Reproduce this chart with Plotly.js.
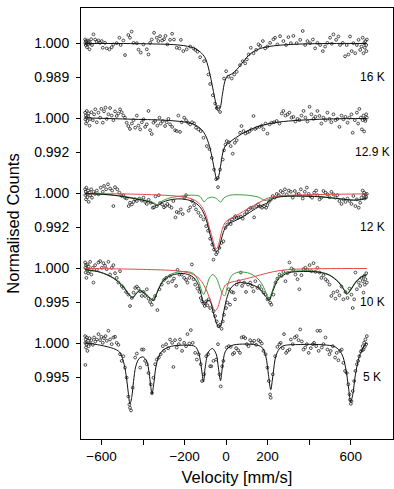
<!DOCTYPE html>
<html>
<head>
<meta charset="utf-8">
<script src="https://cdn.plot.ly/plotly-3.0.1.min.js"></script>
<style>html,body{margin:0;padding:0;background:#fff;}#chart{width:394px;height:489px;}</style>
</head>
<body>
<div id="chart"></div>
<script>
// ---------- measured data (velocity in mm/s, normalised counts) ----------
const temps = ["16 K", "12.9 K", "12 K", "10 K", "5 K"];
const tickLow = [0.989, 0.992, 0.992, 0.995, 0.995];
const tickLowText = ["0.989", "0.992", "0.992", "0.995", "0.995"];

// 16 K
const vel16 = [-679,-678,-676,-675,-671,-670,-666,-665,-662,-658,-655,-650,-646,-639,-631,-623,-615,-607,-599,-594,-583,-575,-562,-551,-543,-527,-514,-508,-495,-487,-471,-463,-455,-446,-430,-422,-411,-398,-382,-374,-366,-358,-347,-334,-326,-318,-308,-299,-292,-283,-270,-260,-251,-238,-225,-218,-206,-190,-173,-157,-148,-138,-125,-106,-85,-77,-64,-53,-45,-37,-29,-10,0,11,27,39,51,67,80,92,100,109,119,132,145,156,164,177,188,199,212,228,236,247,260,276,289,300,312,324,340,357,369,381,392,405,418,429,440,453,466,477,488,501,509,517,530,541,549,562,573,581,589,597,605,613,622,630,638,646,652,658,662,665,668,671,675,676,678];
const cnt16 = [1.0013,1.0002,0.9995,1.0008,0.9999,0.9988,1.0010,0.9997,1.0006,0.9981,1.0001,1.0014,0.9995,1.0030,1.0013,1.0006,1.0010,1.0002,1.0008,0.9986,1.0002,0.9984,0.9981,0.9988,0.9997,1.0001,1.0019,0.9995,1.0010,0.9962,1.0028,1.0019,1.0039,1.0002,1.0001,0.9980,0.9970,0.9997,0.9981,0.9964,1.0002,1.0013,1.0035,1.0019,1.0008,1.0024,1.0010,1.0014,1.0025,0.9997,1.0012,1.0032,1.0013,0.9986,0.9984,1.0012,0.9975,0.9981,0.9990,0.9984,0.9979,0.9973,0.9955,0.9942,0.9898,0.9867,0.9830,0.9803,0.9788,0.9792,0.9775,0.9885,0.9909,0.9891,0.9885,0.9898,0.9907,0.9929,0.9942,0.9935,0.9948,0.9964,0.9986,0.9968,0.9979,0.9997,0.9992,1.0008,0.9984,0.9990,1.0002,1.0014,1.0019,0.9997,1.0024,1.0008,0.9995,1.0021,1.0001,1.0025,1.0001,1.0012,1.0041,0.9995,1.0008,1.0001,1.0013,0.9984,1.0002,0.9995,0.9975,0.9990,1.0002,1.0019,0.9999,1.0030,1.0012,1.0023,0.9995,1.0002,0.9958,0.9995,0.9964,1.0023,0.9975,1.0001,0.9968,0.9995,1.0012,0.9979,0.9990,1.0019,0.9968,1.0001,0.9986,1.0008,0.9995,0.9975,1.0013];
const fitVel16 = [-679,-382,-222,-157,-125,-101,-85,-69,-53,-40,-29,-18,-6,6,27,51,84,116,164,228,341,501,678];
const fit16 = [1.0,0.9999,0.99945,0.99857,0.99725,0.99527,0.99197,0.98702,0.98152,0.97789,0.97877,0.98317,0.98757,0.98922,0.98999,0.99142,0.99417,0.99659,0.99835,0.99923,0.99978,1.0,1.0];

// 12.9 K
const vel129 = [-679,-678,-676,-675,-673,-671,-668,-665,-662,-658,-655,-649,-642,-636,-630,-623,-615,-607,-601,-594,-588,-581,-575,-567,-559,-551,-543,-535,-527,-519,-511,-503,-495,-487,-479,-471,-463,-454,-446,-438,-430,-422,-414,-406,-398,-390,-382,-374,-366,-358,-350,-342,-331,-321,-315,-305,-294,-286,-278,-270,-260,-246,-238,-230,-222,-214,-202,-193,-183,-173,-164,-154,-145,-133,-122,-109,-93,-80,-69,-58,-48,-40,-29,-16,-10,-3,3,13,22,32,42,51,67,74,84,93,103,112,122,132,140,148,161,172,180,190,199,209,220,231,244,257,268,276,286,296,305,315,324,334,344,353,363,373,382,392,402,411,421,430,440,450,459,469,479,488,498,507,517,527,536,546,556,565,575,585,594,604,610,620,630,636,642,649,654,658,662,665,668,671,675,678,-39];
const cnt129 = [1.0014,0.9998,1.0007,0.9988,1.0002,1.0018,0.9994,1.0006,1.0012,0.9983,0.9999,1.0015,0.9996,1.0010,1.0022,0.9991,1.0014,1.0002,1.0023,0.9990,1.0017,1.0026,0.9999,1.0010,1.0025,1.0007,0.9996,1.0017,1.0006,1.0012,1.0022,1.0015,1.0007,1.0002,0.9990,0.9982,0.9975,0.9988,0.9996,0.9978,1.0007,0.9983,0.9974,0.9991,0.9998,0.9980,0.9986,1.0018,0.9972,0.9963,0.9990,0.9994,0.9983,1.0002,0.9988,0.9994,0.9982,0.9991,0.9999,0.9986,0.9980,0.9972,0.9970,1.0007,0.9968,0.9991,1.0002,0.9996,0.9990,0.9986,0.9991,0.9988,0.9978,0.9974,0.9970,0.9954,0.9934,0.9927,0.9906,0.9878,0.9855,0.9858,0.9878,0.9902,0.9924,0.9938,0.9946,0.9943,0.9934,0.9916,0.9942,0.9948,0.9966,0.9982,0.9970,0.9964,0.9967,0.9969,0.9974,1.0006,0.9975,0.9978,0.9980,0.9983,0.9974,0.9988,0.9964,0.9986,0.9990,0.9991,0.9994,0.9988,1.0012,1.0018,1.0007,1.0010,1.0014,1.0002,1.0004,0.9993,0.9999,0.9996,1.0007,1.0018,1.0002,0.9993,1.0028,1.0010,0.9999,1.0004,1.0018,1.0006,0.9988,1.0002,0.9996,1.0014,0.9999,0.9991,1.0010,0.9996,0.9999,0.9980,1.0007,0.9998,1.0004,0.9990,1.0002,1.0010,0.9966,0.9996,1.0014,0.9988,1.0023,1.0002,0.9974,0.9996,1.0007,0.9969,0.9999,0.9994,1.0010,1.0002,0.9836];
const fitVel129 = [-679,-463,-302,-206,-157,-125,-101,-80,-64,-53,-45,-37,-27,-16,-3,16,43,84,132,196,276,389,517,678];
const fit129 = [1.00016,0.99984,0.9996,0.9992,0.99864,0.99768,0.99616,0.99336,0.98976,0.98696,0.98536,0.986,0.98856,0.99176,0.99352,0.99432,0.99528,0.99656,0.99768,0.99864,0.99928,0.99968,0.99992,1.0];

// 12 K
const vel12 = [-679,-678,-676,-675,-673,-671,-668,-665,-662,-658,-655,-650,-646,-639,-631,-623,-615,-604,-594,-588,-578,-569,-559,-549,-543,-535,-524,-514,-503,-495,-487,-479,-469,-463,-454,-446,-438,-430,-418,-406,-398,-390,-382,-373,-363,-353,-347,-340,-334,-324,-318,-308,-299,-292,-283,-273,-263,-254,-244,-238,-228,-218,-209,-202,-193,-181,-173,-164,-154,-145,-133,-122,-109,-96,-87,-77,-67,-58,-48,-42,-32,-22,-13,-3,6,16,22,29,39,45,51,61,71,80,90,100,109,119,128,135,145,154,164,173,183,193,199,206,215,225,234,244,254,263,273,283,292,302,312,321,331,340,350,360,369,379,389,398,405,414,424,434,440,450,459,469,479,488,498,507,517,527,536,546,556,565,575,585,594,604,613,623,630,639,646,652,658,662,665,668,671,675,678,-61];
const cnt12 = [1.0010,0.9996,1.0004,0.9986,1.0014,0.9999,0.9991,1.0007,0.9980,1.0002,0.9996,1.0010,0.9990,1.0004,0.9999,1.0007,0.9998,1.0014,1.0004,1.0018,1.0010,1.0022,1.0012,1.0007,0.9970,1.0015,1.0010,1.0002,0.9994,0.9996,0.9990,0.9988,0.9970,0.9978,0.9974,0.9980,0.9986,0.9982,0.9988,0.9983,0.9990,0.9980,0.9975,0.9985,0.9978,0.9966,0.9967,0.9993,0.9970,0.9996,0.9977,0.9974,0.9967,0.9970,0.9975,0.9970,0.9966,0.9982,0.9943,0.9956,0.9954,0.9962,0.9951,0.9990,0.9996,0.9959,0.9967,0.9982,0.9972,0.9962,0.9954,0.9946,0.9938,0.9922,0.9911,0.9892,0.9878,0.9866,0.9855,0.9860,0.9870,0.9882,0.9886,0.9918,0.9926,0.9934,0.9927,0.9938,0.9942,0.9946,0.9942,0.9943,0.9945,0.9940,0.9950,0.9956,0.9962,0.9966,0.9966,0.9943,0.9970,0.9974,0.9969,0.9966,0.9969,0.9966,0.9972,0.9980,0.9985,0.9994,0.9990,0.9999,0.9996,1.0006,1.0002,1.0010,0.9998,1.0007,1.0004,0.9990,1.0006,0.9998,0.9999,1.0010,0.9988,1.0004,1.0014,0.9999,0.9994,0.9990,1.0002,1.0007,0.9996,0.9986,0.9990,1.0006,1.0002,0.9998,0.9991,1.0004,0.9998,0.9990,0.9996,0.9982,0.9975,0.9986,0.9980,0.9988,0.9982,0.9975,0.9994,0.9970,0.9986,0.9966,0.9978,0.9990,1.0007,0.9996,1.0002,0.9988,0.9998,0.9991,0.9999,0.9842];
const fitVel12 = [-679,-543,-446,-382,-350,-331,-310,-270,-222,-173,-141,-117,-96,-77,-61,-50,-40,-29,-16,-3,16,51,92,132,172,196,220,260,340,453,549,613,654,678];
const fit12 = [1.0,0.9996,0.9988,0.99816,0.9976,0.99712,0.99784,0.99848,0.99872,0.99832,0.99752,0.99616,0.99376,0.99016,0.98736,0.98616,0.98632,0.98792,0.99032,0.99192,0.99288,0.99368,0.9948,0.99608,0.9972,0.99768,0.99864,0.9992,0.99936,0.9992,0.99872,0.9984,0.99856,0.99896];
const sub1Vel12 = [-679,-382,-222,-157,-125,-101,-80,-64,-55,-47,-39,-29,-18,-6,11,43,84,132,172,204,292,453,678];
const sub1Fit12 = [1.0,0.99976,0.99928,0.99856,0.99736,0.99536,0.99176,0.98896,0.98736,0.9868,0.98736,0.98936,0.9916,0.99296,0.99376,0.99456,0.99576,0.99712,0.99816,0.99896,0.99952,0.99976,0.99992];
const sub2Vel12 = [-679,-543,-446,-382,-350,-331,-310,-270,-222,-157,-125,-106,-90,-64,-42,-26,-10,19,100,156,188,204,244,340,453,549,613,654,678];
const sub2Fit12 = [1.0,0.9996,0.99896,0.99832,0.99784,0.99736,0.99816,0.99896,0.99936,0.9996,0.99928,0.998,0.9988,0.99912,0.99864,0.99792,0.99896,0.9996,0.9996,0.99912,0.99832,0.99856,0.99928,0.99952,0.99928,0.99872,0.99848,0.99864,0.99896];

// 10 K
const vel10 = [-679,-678,-676,-675,-673,-671,-668,-665,-662,-658,-655,-649,-642,-639,-631,-623,-615,-607,-599,-591,-583,-575,-567,-559,-551,-543,-535,-527,-519,-511,-503,-495,-482,-471,-463,-454,-446,-438,-430,-422,-414,-406,-398,-390,-382,-374,-366,-358,-350,-342,-331,-321,-310,-299,-289,-279,-270,-260,-251,-241,-234,-225,-214,-202,-193,-186,-177,-165,-157,-149,-138,-128,-122,-116,-109,-103,-96,-90,-84,-77,-61,-53,-45,-37,-29,-22,-16,-10,0,6,13,19,27,35,43,51,61,71,77,87,96,106,116,125,132,141,151,161,170,180,190,199,206,212,218,228,238,247,257,267,276,286,296,305,315,324,334,344,353,363,373,382,392,402,411,421,430,440,450,459,469,479,488,498,507,517,527,536,546,556,565,575,585,594,604,610,617,623,630,639,646,652,658,662,665,668,671,675,678];
const cnt10 = [1.0009,1.0001,0.9994,1.0005,0.9986,0.9999,1.0006,0.9993,1.0003,0.9996,1.0010,0.9991,1.0001,0.9979,1.0005,0.9998,1.0009,1.0011,1.0001,1.0008,1.0004,0.9999,1.0010,0.9991,1.0001,1.0005,0.9993,0.9986,0.9979,0.9996,0.9974,0.9971,0.9965,0.9961,0.9944,0.9956,0.9964,0.9971,0.9973,0.9970,0.9966,0.9959,0.9965,0.9959,0.9969,0.9955,0.9950,0.9946,0.9954,0.9959,0.9938,0.9969,0.9976,0.9983,0.9986,0.9979,0.9989,0.9981,0.9985,0.9974,0.9998,0.9991,0.9991,0.9986,0.9983,0.9979,0.9986,1.0006,0.9984,0.9976,0.9970,0.9965,0.9956,0.9951,0.9948,0.9944,0.9951,0.9945,0.9954,0.9941,0.9936,0.9929,0.9921,0.9914,0.9916,0.9910,0.9921,0.9931,0.9941,0.9949,0.9969,0.9946,0.9965,0.9964,0.9954,0.9976,0.9981,0.9994,0.9974,0.9979,0.9965,0.9976,0.9979,0.9973,0.9966,0.9981,0.9971,0.9974,0.9969,0.9964,0.9961,0.9954,0.9955,0.9949,0.9946,0.9961,0.9979,0.9985,0.9991,0.9989,0.9995,0.9981,0.9993,1.0009,1.0000,0.9998,0.9991,0.9984,0.9969,0.9990,0.9999,1.0001,0.9998,1.0005,0.9996,1.0008,0.9995,1.0001,0.9994,0.9986,0.9990,0.9984,0.9981,0.9976,0.9959,0.9964,0.9955,0.9966,0.9960,0.9973,0.9954,0.9965,0.9956,0.9970,0.9961,0.9941,0.9954,0.9994,0.9969,0.9979,0.9974,0.9986,0.9981,0.9964,0.9989,0.9976,0.9984,0.9993,0.9979];
const fitVel10 = [-679,-607,-543,-495,-471,-450,-430,-414,-390,-366,-350,-331,-302,-262,-206,-165,-138,-120,-109,-101,-90,-77,-61,-45,-34,-22,-10,6,27,59,108,156,185,207,225,252,300,373,445,498,541,569,581,597,626,654,678];
const fit10 = [0.99985,0.99945,0.99855,0.99725,0.9962,0.99565,0.99635,0.99665,0.99625,0.9955,0.99525,0.9965,0.9982,0.999,0.99925,0.99885,0.99785,0.9961,0.99485,0.9946,0.99525,0.9951,0.99335,0.99175,0.99115,0.99185,0.99375,0.99585,0.99725,0.99785,0.99775,0.9971,0.9961,0.99525,0.9966,0.99845,0.99935,0.99955,0.99945,0.999,0.99795,0.99675,0.99615,0.99665,0.998,0.99875,0.99905];
const sub1Vel10 = [-679,-382,-222,-157,-125,-96,-77,-64,-53,-42,-29,-16,-3,19,67,132,196,260,340,678];
const sub1Fit10 = [1.0,0.99985,0.9996,0.9991,0.99835,0.99685,0.99535,0.99425,0.9937,0.99405,0.99535,0.99675,0.99755,0.9979,0.99825,0.99875,0.9993,0.9997,0.9999,1.0];
const sub2Vel10 = [-679,-607,-543,-495,-471,-450,-430,-414,-390,-366,-350,-331,-302,-262,-206,-157,-133,-117,-108,-96,-80,-64,-45,-29,-16,-6,6,27,59,116,164,193,207,222,247,292,357,437,493,541,569,581,597,626,654,678];
const sub2Fit10 = [0.99975,0.99945,0.9986,0.99735,0.99625,0.9957,0.99645,0.99675,0.99635,0.9956,0.99535,0.9966,0.99835,0.9992,0.99955,0.99925,0.9981,0.9966,0.9961,0.9971,0.9986,0.9991,0.99845,0.9971,0.9961,0.99595,0.99735,0.99895,0.99945,0.99925,0.9981,0.99635,0.99545,0.9966,0.9986,0.99945,0.99965,0.99955,0.9991,0.99805,0.99685,0.99625,0.99675,0.9981,0.99885,0.99915];

// 5 K
const vel5 = [-679,-678,-678,-676,-675,-673,-671,-668,-665,-662,-658,-655,-649,-642,-636,-630,-623,-615,-607,-601,-594,-588,-581,-575,-567,-559,-551,-543,-535,-527,-519,-511,-503,-495,-487,-479,-471,-466,-463,-458,-450,-438,-430,-414,-406,-398,-390,-382,-374,-363,-357,-350,-342,-334,-324,-315,-305,-299,-289,-279,-270,-260,-254,-246,-238,-228,-222,-212,-202,-193,-186,-177,-170,-161,-149,-141,-132,-122,-116,-106,-96,-87,-77,-71,-61,-48,-39,-32,-26,-19,-13,3,13,22,32,39,48,58,67,75,84,92,100,108,116,125,135,145,156,164,172,180,190,199,206,212,215,225,236,247,257,263,273,279,289,296,305,312,321,331,340,349,357,365,373,381,389,398,408,418,424,434,440,446,453,461,469,479,488,498,504,514,525,533,541,549,557,565,573,581,589,594,597,601,604,610,617,623,630,636,642,649,655,658,662,665,668,671,675,678];
const cnt5 = [1.0011,1.0001,0.9968,1.0006,0.9994,0.9999,1.0009,0.9989,1.0004,0.9996,1.0008,1.0000,1.0005,0.9998,1.0009,1.0003,1.0006,1.0014,1.0005,1.0010,1.0001,1.0008,1.0011,1.0004,1.0019,1.0006,0.9999,1.0009,1.0010,1.0001,0.9998,0.9984,0.9974,0.9981,0.9964,0.9949,0.9921,0.9909,0.9904,0.9900,0.9934,0.9979,0.9985,0.9964,0.9991,0.9991,0.9974,0.9969,0.9956,0.9939,0.9926,0.9949,0.9969,0.9976,0.9979,0.9984,0.9996,0.9989,0.9999,0.9993,1.0006,1.0001,0.9965,1.0005,0.9994,0.9999,1.0006,0.9989,1.0001,0.9996,1.0014,1.0000,1.0020,1.0001,0.9986,0.9976,0.9984,0.9969,0.9944,0.9954,0.9981,0.9984,0.9966,0.9966,0.9974,0.9976,0.9999,0.9954,0.9936,0.9966,0.9974,0.9994,0.9996,0.9995,0.9984,0.9986,0.9993,0.9990,0.9986,1.0009,1.0010,1.0008,0.9999,0.9996,1.0005,1.0001,1.0004,0.9998,1.0005,1.0003,1.0000,0.9989,0.9984,0.9964,0.9944,0.9924,0.9919,0.9954,0.9981,0.9995,0.9999,1.0001,0.9993,1.0014,0.9986,0.9989,0.9991,1.0006,0.9999,1.0009,1.0011,1.0005,1.0021,1.0003,0.9991,0.9994,0.9999,0.9986,0.9993,0.9999,1.0001,0.9996,1.0019,0.9989,1.0019,0.9994,0.9999,1.0009,0.9991,0.9984,0.9989,0.9996,0.9979,0.9986,0.9975,0.9989,0.9991,0.9971,0.9959,0.9956,0.9939,0.9924,0.9916,0.9910,0.9914,0.9929,0.9944,0.9959,0.9969,0.9974,0.9981,0.9988,0.9990,0.9996,0.9991,1.0001,0.9995,1.0006,0.9999,1.0011];
const fitVel5 = [-679,-607,-543,-514,-495,-482,-471,-463,-454,-446,-435,-419,-401,-382,-371,-363,-357,-349,-339,-324,-302,-262,-190,-149,-132,-119,-109,-100,-85,-66,-48,-37,-27,-18,-3,27,132,172,191,204,215,226,241,268,357,469,525,557,576,591,600,610,623,642,665,678];
const fit5 = [1.0001,0.99975,0.99925,0.99875,0.99735,0.99535,0.9926,0.99095,0.9921,0.99435,0.9966,0.99775,0.998,0.99735,0.9956,0.9936,0.99245,0.99385,0.99635,0.9981,0.99905,0.9996,0.99975,0.99955,0.9986,0.99635,0.99425,0.9966,0.99875,0.99925,0.99845,0.99635,0.99445,0.99645,0.99885,0.9997,0.99985,0.99945,0.9981,0.99535,0.9931,0.99535,0.99825,0.99955,0.99985,0.9998,0.9995,0.99845,0.99635,0.9931,0.99125,0.99235,0.99535,0.9981,0.9996,1.0001];

const xTickVals = [-600, -400, -200, 0, 200, 400, 600];
const xTickText = ["\u2212600", "", "\u2212200", "0", "200", "", "600"];

// ---------- layout geometry ----------
const W = 394, H = 489, ML = 81, MR = 1, MT = 8, MB = 50;
const plotH = H - MT - MB;
const topPx = [43.5, 118.5, 193.5, 268.5, 343.5];
const gapPx = 33.5;
function axisRange(k) {
  const s = gapPx / (1 - tickLow[k]);
  const hi = 1 + (topPx[k] - MT) / s;
  return [hi - plotH / s, hi];
}

const FONT = "Liberation Sans, Arial, Helvetica, sans-serif";
const BLACK = "#111", RED = "#e4474c", GREEN = "#3c9f3c";

const panels = [
  {v: vel16, c: cnt16, fits: [[fitVel16, fit16, BLACK]]},
  {v: vel129, c: cnt129, fits: [[fitVel129, fit129, BLACK]]},
  {v: vel12, c: cnt12, fits: [[sub2Vel12, sub2Fit12, GREEN], [sub1Vel12, sub1Fit12, RED], [fitVel12, fit12, BLACK]]},
  {v: vel10, c: cnt10, fits: [[sub2Vel10, sub2Fit10, GREEN], [sub1Vel10, sub1Fit10, RED], [fitVel10, fit10, BLACK]]},
  {v: vel5, c: cnt5, fits: [[fitVel5, fit5, BLACK]]}
];

const traces = [];
const layout = {
  width: W, height: H,
  margin: {l: ML, r: MR, t: MT, b: MB},
  paper_bgcolor: "#fff", plot_bgcolor: "#fff",
  showlegend: false,
  font: {family: FONT, color: "#000", size: 14},
  xaxis: {
    range: [-699, 804], showgrid: false, zeroline: false,
    showline: true, linecolor: "#000", linewidth: 1, mirror: true,
    ticks: "outside", ticklen: 5, tickwidth: 1, tickcolor: "#000",
    tickvals: xTickVals, ticktext: xTickText,
    tickfont: {size: 13.5, family: FONT},
    title: {text: "Velocity [mm/s]", font: {size: 16.5, family: FONT}, standoff: 8}
  },
  annotations: []
};

panels.forEach((p, k) => {
  const yname = k === 0 ? "y" : "y" + (k + 1);
  const lname = k === 0 ? "yaxis" : "yaxis" + (k + 1);
  traces.push({
    type: "scatter", mode: "markers", x: p.v, y: p.c, xaxis: "x", yaxis: yname,
    marker: {symbol: "circle-open", size: 2.8, color: "#222", line: {width: 0.8, color: "#222"}},
    hoverinfo: "skip"
  });
  p.fits.forEach(f => {
    traces.push({
      type: "scatter", mode: "lines", x: f[0], y: f[1], xaxis: "x", yaxis: yname,
      line: {color: f[2], width: 1, shape: "spline", smoothing: 0.9},
      hoverinfo: "skip"
    });
  });
  const ax = {
    range: axisRange(k), showgrid: false, zeroline: false,
    ticks: "outside", ticklen: 4, tickwidth: 1, tickcolor: "#000",
    tickvals: [1.0, tickLow[k]], ticktext: ["1.000", tickLowText[k]],
    tickfont: {size: 14, family: FONT}, ticklabelstandoff: 4,
    fixedrange: true
  };
  if (k === 0) {
    ax.showline = true; ax.linecolor = "#000"; ax.linewidth = 1; ax.mirror = true;
    ax.title = {text: "Normalised Counts", font: {size: 16.5, family: FONT}, standoff: 10};
  } else {
    ax.showline = false; ax.overlaying = "y"; ax.anchor = "x"; ax.side = "left";
  }
  layout[lname] = ax;
  layout.annotations.push({
    x: 704, y: tickLow[k], xref: "x", yref: yname, text: temps[k],
    showarrow: false, xanchor: "center", yanchor: "middle",
    font: {size: 12, family: FONT, color: "#000"}
  });
});

Plotly.newPlot("chart", traces, layout, {staticPlot: true, displayModeBar: false});
</script>
</body>
</html>
